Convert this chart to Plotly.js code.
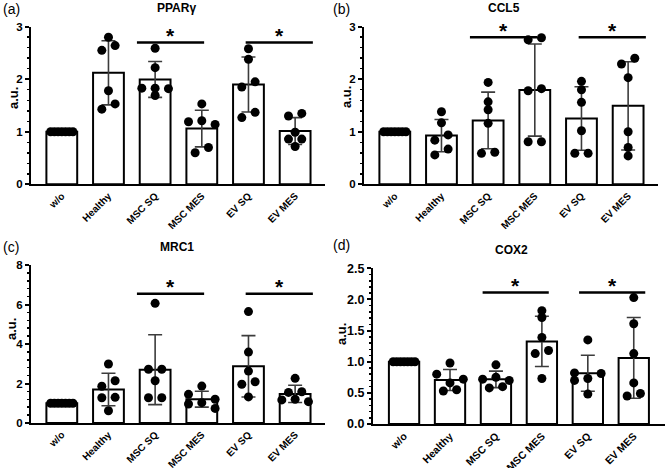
<!DOCTYPE html>
<html>
<head>
<meta charset="utf-8">
<script src="https://cdn.plot.ly/plotly-3.0.1.min.js"></script>
<style>
body { margin: 0; background: #fff; }
#chart { width: 667px; height: 468px; }
</style>
</head>
<body>
<div id="chart"></div>
<script>
var categories = ['w/o', 'Healthy', 'MSC SQ', 'MSC MES', 'EV SQ', 'EV MES'];

// replicate values per group (one inner array per category)
var pparg = [
    [1, 1, 1, 1, 1, 1, 1],
    [2.80, 2.64, 2.55, 1.78, 1.53, 1.43],
    [2.59, 2.22, 1.83, 1.83, 1.82, 1.69],
    [1.53, 1.21, 1.19, 1.14, 0.70, 0.60],
    [2.58, 2.38, 1.95, 1.85, 1.37, 1.27],
    [1.35, 1.30, 0.99, 0.86, 0.86, 0.72]
];
var ccl5 = [
    [1, 1, 1, 1, 1, 1, 1],
    [1.38, 1.17, 0.94, 0.84, 0.67, 0.56],
    [1.94, 1.57, 1.42, 1.16, 0.61, 0.59],
    [2.79, 2.75, 1.82, 1.78, 0.81, 0.81],
    [1.96, 1.80, 1.56, 1.02, 0.59, 0.59],
    [2.40, 2.29, 2.03, 1.00, 0.70, 0.54]
];
var mrc1 = [
    [1, 1, 1, 1, 1, 1, 1],
    [2.99, 2.14, 1.86, 1.30, 1.28, 0.62],
    [6.06, 2.72, 2.72, 2.14, 1.28, 1.28],
    [1.87, 1.45, 1.20, 1.03, 0.96, 0.74],
    [5.64, 3.59, 2.63, 2.09, 1.96, 1.32],
    [2.26, 1.58, 1.55, 1.20, 1.17, 1.08]
];
var cox2 = [
    [1, 1, 1, 1, 1, 1, 1],
    [0.98, 0.80, 0.72, 0.66, 0.55, 0.53],
    [0.95, 0.75, 0.72, 0.70, 0.60, 0.58],
    [1.82, 1.71, 1.39, 1.18, 1.13, 0.73],
    [1.35, 0.82, 0.81, 0.73, 0.70, 0.48],
    [2.03, 1.61, 1.13, 0.66, 0.49, 0.45]
];

var panelData = [pparg, ccl5, mrc1, cox2];
var panelTitles = ['PPARγ', 'CCL5', 'MRC1', 'COX2'];
var panelTags = ['(a)', '(b)', '(c)', '(d)'];
var yMax = [3, 3, 8, 2.5];
var yStep = [1, 1, 2, 0.5];
var yMinor = [0.2, 0.2, 0.4, 0.1];
var sigPairs = [[2, 3], [4, 5]];
var sigLevel = [2.70, 2.80, 6.55, 2.11];

// layout geometry in page pixels: [left, right, top, bottom] of each plot area
var boxes = [[31, 325, 26.7, 184.3], [364, 658, 26.7, 184.3], [31, 325, 265, 423], [373, 665, 268.3, 424]];
var xRanges = [[-0.66, 5.64], [-0.66, 5.64], [-0.66, 5.64], [-0.676, 5.68]];
var sigShift = [[-0.17, 0.16], [-0.17, 0.16], [-0.17, 0.16], [-0.07, 0.03]];
var titlePos = [[176, 8], [504, 8], [177, 247], [511, 250]];
var tagPos = [[1, 9], [331, 9], [1, 247], [331, 245]];
var auPos = [[13, 98], [346, 97], [11, 329], [341, 334]];
var W = 667, H = 468;
var FONT = 'Arial, "Liberation Sans", sans-serif';

function px(x) { return x / W; }
function py(y) { return 1 - y / H; }

function mean(a) {
    var s = 0;
    a.forEach(function (v) { s += v; });
    return s / a.length;
}

function sd(a) {
    var m = mean(a), s = 0;
    a.forEach(function (v) { s += (v - m) * (v - m); });
    return Math.sqrt(s / (a.length - 1));
}

// spread points with close values sideways, prism-like
function jitter(vals, pxY, pxX) {
    var stepPx = 13.3, thr = 6, dot = 8.5, barPx = 0.66 * pxX;
    var order = vals.map(function (v, i) { return i; });
    order.sort(function (a, b) { return vals[b] - vals[a]; });
    var off = vals.map(function () { return 0; });
    var chains = [], cur = [order[0]];
    for (var k = 1; k < order.length; k++) {
        if ((vals[order[k - 1]] - vals[order[k]]) * pxY < thr) {
            cur.push(order[k]);
        } else {
            chains.push(cur);
            cur = [order[k]];
        }
    }
    chains.push(cur);
    chains.forEach(function (ch) {
        var n = ch.length;
        if (n === 1) return;
        var span = (vals[ch[0]] - vals[ch[n - 1]]) * pxY;
        if (span < thr) {
            var step = n <= 3 ? stepPx : Math.min(stepPx, (barPx - dot) / (n - 1));
            if (n === 2) {
                off[ch[0]] = step / 2;
                off[ch[1]] = -step / 2;
            } else if (n === 3) {
                off[ch[0]] = 0;
                off[ch[1]] = -step;
                off[ch[2]] = step;
            } else {
                ch.forEach(function (idx, i) { off[idx] = (i - (n - 1) / 2) * step; });
            }
        } else {
            var cyc = [-stepPx, stepPx, 0];
            ch.forEach(function (idx, i) { off[idx] = cyc[i % 3]; });
        }
    });
    return off.map(function (o) { return o / pxX; });
}

var data = [];
var shapes = [];
var annotations = [];
var layout = {
    width: W,
    height: H,
    margin: {l: 0, r: 0, t: 0, b: 0},
    paper_bgcolor: '#fff',
    plot_bgcolor: 'rgba(0,0,0,0)',
    showlegend: false,
    font: {family: FONT, color: '#000'}
};

panelData.forEach(function (groups, p) {
    var sfx = p === 0 ? '' : String(p + 1);
    var xa = 'x' + sfx, ya = 'y' + sfx;
    var box = boxes[p];
    var big = p === 3;
    var pxY = (box[3] - box[2]) / yMax[p];
    var pxX = (box[1] - box[0]) / (xRanges[p][1] - xRanges[p][0]);

    var idx = categories.map(function (c, i) { return i; });
    data.push({
        type: 'bar',
        x: idx,
        y: groups.map(mean),
        width: 0.66,
        xaxis: xa,
        yaxis: ya,
        marker: {color: '#fff', line: {color: '#000', width: 2}},
        error_y: {
            type: 'data',
            array: groups.map(sd),
            visible: true,
            color: '#3c3c3c',
            thickness: 1.6,
            width: 7
        },
        hoverinfo: 'skip'
    });

    var dx = [], dy = [];
    groups.forEach(function (vals, i) {
        var offs = jitter(vals, pxY, pxX);
        vals.forEach(function (v, j) {
            dx.push(i + offs[j]);
            dy.push(v);
        });
    });
    data.push({
        type: 'scatter',
        mode: 'markers',
        x: dx,
        y: dy,
        xaxis: xa,
        yaxis: ya,
        cliponaxis: false,
        marker: {color: '#000', size: 9, line: {width: 0}},
        hoverinfo: 'skip'
    });

    layout['xaxis' + sfx] = {
        domain: [px(box[0]), px(box[1])],
        anchor: ya,
        range: xRanges[p],
        tickmode: 'array',
        tickvals: idx,
        ticktext: categories,
        tickangle: -45,
        ticks: '',
        tickfont: {family: FONT, size: big ? 10.5 : 10, weight: 'bold', color: '#000'},
        showline: true,
        linecolor: '#000',
        linewidth: 2,
        showgrid: false,
        zeroline: false,
        fixedrange: true
    };
    layout['yaxis' + sfx] = {
        domain: [py(box[3]), py(box[2])],
        anchor: xa,
        range: [0, yMax[p]],
        tickmode: 'linear',
        tick0: 0,
        dtick: yStep[p],
        tickformat: big ? '.1f' : '',
        ticks: 'outside',
        ticklen: 4,
        tickwidth: 2,
        tickcolor: '#000',
        minor: {ticks: 'outside', dtick: yMinor[p], ticklen: 2.5, tickwidth: 1.5, tickcolor: '#000'},
        tickfont: {family: FONT, size: big ? 12.5 : 11.5, weight: 'bold', color: '#000'},
        showline: true,
        linecolor: '#000',
        linewidth: 2,
        showgrid: false,
        zeroline: false,
        fixedrange: true
    };

    sigPairs.forEach(function (pair, k) {
        var mid = (pair[0] + pair[1]) / 2 + sigShift[p][k];
        shapes.push({
            type: 'line',
            xref: xa,
            yref: ya,
            x0: mid - 0.72,
            x1: mid + 0.72,
            y0: sigLevel[p],
            y1: sigLevel[p],
            line: {color: '#000', width: 2.5}
        });
        annotations.push({
            xref: xa,
            yref: ya,
            x: mid,
            y: sigLevel[p],
            text: '*',
            showarrow: false,
            yanchor: 'middle',
            yshift: 7,
            font: {family: FONT, size: 21, weight: 'bold', color: '#000'}
        });
    });

    annotations.push({
        xref: 'paper', yref: 'paper',
        x: px(titlePos[p][0]), y: py(titlePos[p][1]),
        xanchor: 'center', yanchor: 'middle',
        text: panelTitles[p],
        showarrow: false,
        font: {family: FONT, size: 12, weight: 'bold', color: '#000'}
    });
    annotations.push({
        xref: 'paper', yref: 'paper',
        x: px(tagPos[p][0]), y: py(tagPos[p][1]),
        xanchor: 'left', yanchor: 'middle',
        text: panelTags[p],
        showarrow: false,
        font: {family: FONT, size: 14, color: '#000'}
    });
    annotations.push({
        xref: 'paper', yref: 'paper',
        x: px(auPos[p][0]), y: py(auPos[p][1]),
        xanchor: 'center', yanchor: 'middle',
        text: 'a.u.',
        textangle: -90,
        showarrow: false,
        font: {family: FONT, size: 13, weight: 'bold', color: '#000'}
    });
});

layout.shapes = shapes;
layout.annotations = annotations;

Plotly.newPlot('chart', data, layout, {displayModeBar: false, staticPlot: true});
</script>
</body>
</html>
